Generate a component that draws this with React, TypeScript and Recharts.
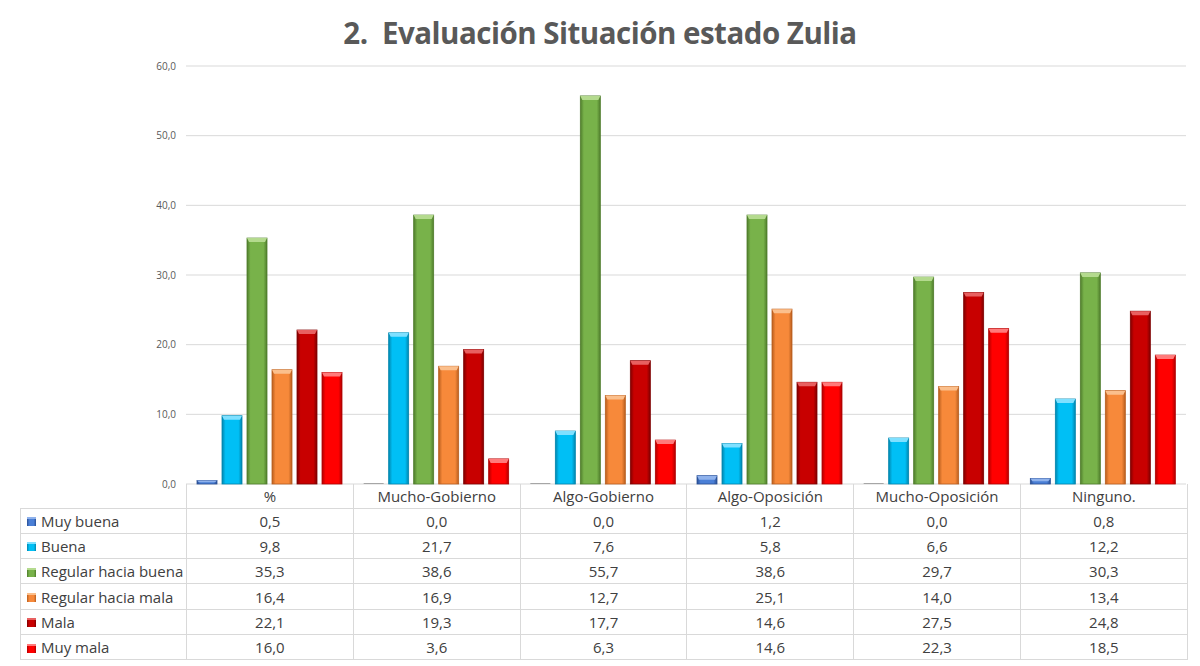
import React from "react";
import { BarChart, Bar, XAxis, YAxis, CartesianGrid } from "recharts";

const categories = ["%", "Mucho-Gobierno", "Algo-Gobierno", "Algo-Oposición", "Mucho-Oposición", "Ninguno."];
const muyBuena = [0.5, 0.0, 0.0, 1.2, 0.0, 0.8];
const buena = [9.8, 21.7, 7.6, 5.8, 6.6, 12.2];
const regularBuena = [35.3, 38.6, 55.7, 38.6, 29.7, 30.3];
const regularMala = [16.4, 16.9, 12.7, 25.1, 14.0, 13.4];
const mala = [22.1, 19.3, 17.7, 14.6, 27.5, 24.8];
const muyMala = [16.0, 3.6, 6.3, 14.6, 22.3, 18.5];
const yTicks = [0, 10, 20, 30, 40, 50, 60];

const series = [
  { key: "muyBuena", name: "Muy buena", values: muyBuena, color: "#4a7fd6", dark: "#2a4f94", light: "#8fb2ec" },
  { key: "buena", name: "Buena", values: buena, color: "#00bff5", dark: "#0085ad", light: "#7fe0ff" },
  { key: "regularBuena", name: "Regular hacia buena", values: regularBuena, color: "#78b24a", dark: "#4f7d2c", light: "#b4da8e" },
  { key: "regularMala", name: "Regular hacia mala", values: regularMala, color: "#f7893a", dark: "#b85e1e", light: "#fbbf8c" },
  { key: "mala", name: "Mala", values: mala, color: "#c80000", dark: "#7f0000", light: "#e86060" },
  { key: "muyMala", name: "Muy mala", values: muyMala, color: "#ff0000", dark: "#b00000", light: "#ff7a7a" },
];

const data = categories.map((c, i) => {
  const row: Record<string, string | number> = { name: c };
  series.forEach((s) => (row[s.key] = s.values[i]));
  return row;
});

const fmt = (v: number) => v.toFixed(1).replace(".", ",");

const makeShape = (idx: number) => (props: any) => {
  const { x, y, width, height } = props;
  const s = series[idx];
  if (!height || height < 1) {
    return <rect x={x} y={484 - 1} width={width} height={1} fill="#a6a6a6" />;
  }
  const cap = Math.min(4, height / 2);
  return (
    <g>
      <rect x={x} y={y} width={width} height={height} fill={`url(#grad-${s.key})`} stroke={s.dark} strokeWidth={0.8} />
      <polygon
        points={`${x},${y} ${x + width},${y} ${x + width - 2},${y + cap} ${x + 2},${y + cap}`}
        fill={s.light}
      />
    </g>
  );
};

const Swatch = ({ s }: { s: (typeof series)[number] }) => (
  <span
    style={{
      display: "inline-block",
      width: 9,
      height: 9,
      marginRight: 5,
      background: `linear-gradient(to right, ${s.dark}, ${s.color} 25%, ${s.color} 75%, ${s.dark})`,
      borderTop: `2px solid ${s.light}`,
      boxSizing: "border-box",
      verticalAlign: "middle",
      position: "relative",
      top: -1,
    }}
  />
);

const cellBorder = "1px solid #d9d9d9";

export default function App() {
  return (
    <div style={{ position: "absolute", left: 0, top: 0, width: 1200, height: 666, background: "#fff", fontFamily: "'Open Sans', sans-serif" }}>
      <div
        style={{
          position: "absolute",
          left: 0,
          top: 12,
          width: 1200,
          textAlign: "center",
          fontSize: 29.5,
          fontWeight: 700,
          color: "#595959",
          letterSpacing: -0.5,
        }}
      >
        2.&nbsp; Evaluación Situación estado Zulia
      </div>
      <div style={{ position: "absolute", left: 0, top: 0 }}>
        <BarChart
          width={1200}
          height={490}
          data={data}
          margin={{ top: 66, right: 14, bottom: 6, left: 126 }}
          barCategoryGap={11}
          barGap={5}
        >
          <defs>
            {series.map((s) => (
              <linearGradient key={s.key} id={`grad-${s.key}`} x1="0" y1="0" x2="1" y2="0">
                <stop offset="0" stopColor={s.dark} />
                <stop offset="0.18" stopColor={s.color} />
                <stop offset="0.82" stopColor={s.color} />
                <stop offset="1" stopColor={s.dark} />
              </linearGradient>
            ))}
          </defs>
          <CartesianGrid vertical={false} stroke="#d9d9d9" />
          <XAxis dataKey="name" hide />
          <YAxis
            width={60}
            domain={[0, 60]}
            ticks={yTicks}
            tickFormatter={fmt}
            axisLine={false}
            tickLine={false}
            tickMargin={4}
            tick={{ fontSize: 10, fill: "#595959", fontFamily: "'Open Sans', sans-serif" }}
          />
          {series.map((s, i) => (
            <Bar key={s.key} dataKey={s.key} name={s.name} fill={s.color} shape={makeShape(i)} isAnimationActive={false} />
          ))}
        </BarChart>
      </div>
      <table
        style={{
          position: "absolute",
          left: 20,
          top: 484,
          width: 1167,
          borderCollapse: "collapse",
          tableLayout: "fixed",
          fontSize: 15,
          color: "#404040",
        }}
      >
        <colgroup>
          <col style={{ width: 166 }} />
          {categories.map((c) => (
            <col key={c} style={{ width: 166.8 }} />
          ))}
        </colgroup>
        <tbody>
          <tr style={{ height: 24 }}>
            <td style={{ padding: 0 }} />
            {categories.map((c) => (
              <td key={c} style={{ border: cellBorder, borderTop: "none", textAlign: "center", padding: 0 }}>
                {c}
              </td>
            ))}
          </tr>
          {series.map((s) => (
            <tr key={s.key} style={{ height: 25.3 }}>
              <td style={{ border: cellBorder, padding: "0 0 0 6px", whiteSpace: "nowrap" }}>
                <Swatch s={s} />
                {s.name}
              </td>
              {s.values.map((v, i) => (
                <td key={i} style={{ border: cellBorder, textAlign: "center", padding: 0 }}>
                  {fmt(v)}
                </td>
              ))}
            </tr>
          ))}
        </tbody>
      </table>
    </div>
  );
}
